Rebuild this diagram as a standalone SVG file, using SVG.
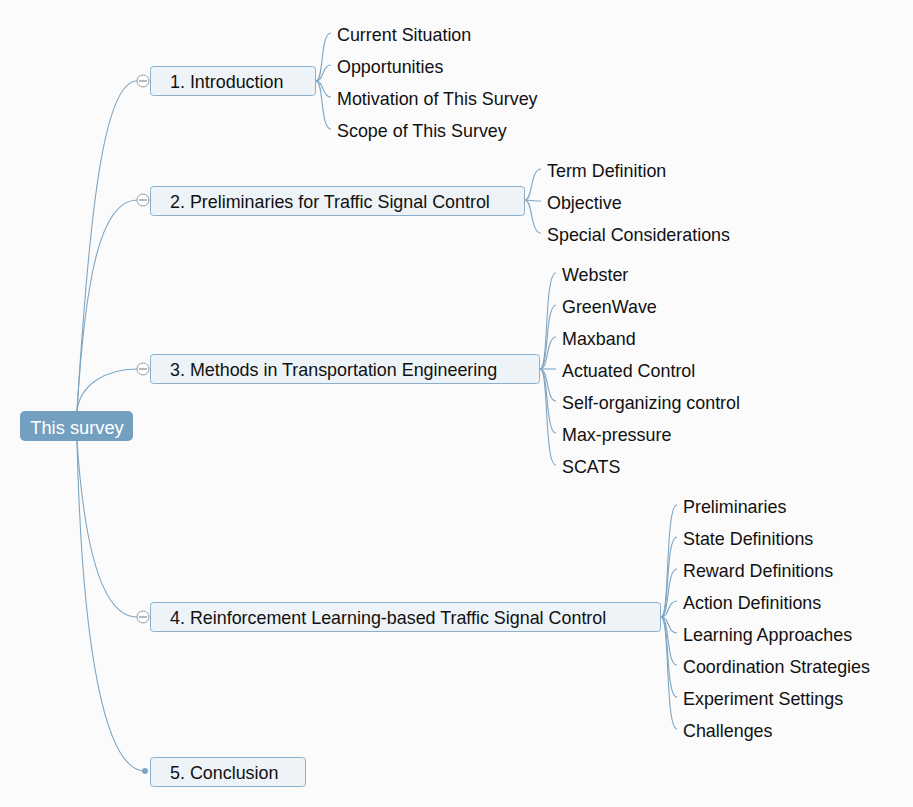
<svg xmlns="http://www.w3.org/2000/svg" width="913" height="807" viewBox="0 0 913 807">
<style>
text{font-family:"Liberation Sans",Arial,sans-serif;font-size:17.9px;fill:#111}
.box{fill:#eef3f7;stroke:#8cb0cb;stroke-width:1}
.ln{fill:none;stroke:#7ea6c4;stroke-width:1.1}
.cc{fill:#fff;stroke:#9a9a9a;stroke-width:1}
.cm{stroke:#777;stroke-width:1}
</style>
<rect width="913" height="807" fill="#fbfbfb"/>
<g id="connectors">
<path class="ln" d="M77 411 C90 200 105 81 137 81"/>
<path class="ln" d="M77 411 C85 280 100 200 137 200"/>
<path class="ln" d="M77 411 C80 385 105 369 137 369"/>
<path class="ln" d="M77 441 C85 560 105 617 137 617"/>
<path class="ln" d="M77 441 C82 650 105 771 145 771"/>
<path class="ln" d="M316 81 C324 81 320 33 331 33"/>
<path class="ln" d="M316 81 C324 81 322 65 331 65"/>
<path class="ln" d="M316 81 C324 81 322 97 331 97"/>
<path class="ln" d="M316 81 C324 81 320 129 331 129"/>
<path class="ln" d="M525 200 C533 200 530 169 541 169"/>
<path class="ln" d="M525 200 C533 200 530 201 541 201"/>
<path class="ln" d="M525 200 C533 200 530 233 541 233"/>
<path class="ln" d="M540 369 C549 369 544 273 556 273"/>
<path class="ln" d="M540 369 C549 369 545 305 556 305"/>
<path class="ln" d="M540 369 C549 369 546 337 556 337"/>
<path class="ln" d="M540 369 C549 369 546 369 556 369"/>
<path class="ln" d="M540 369 C549 369 546 401 556 401"/>
<path class="ln" d="M540 369 C549 369 545 433 556 433"/>
<path class="ln" d="M540 369 C549 369 544 465 556 465"/>
<path class="ln" d="M661 617 C670 617 665 505 677 505"/>
<path class="ln" d="M661 617 C670 617 665 537 677 537"/>
<path class="ln" d="M661 617 C670 617 666 569 677 569"/>
<path class="ln" d="M661 617 C670 617 667 601 677 601"/>
<path class="ln" d="M661 617 C670 617 667 633 677 633"/>
<path class="ln" d="M661 617 C670 617 666 665 677 665"/>
<path class="ln" d="M661 617 C670 617 665 697 677 697"/>
<path class="ln" d="M661 617 C670 617 665 729 677 729"/>
</g>
<g id="root">
<rect x="20" y="411" width="113" height="30" rx="5" fill="#739fc0"/>
<text x="77" y="433.5" text-anchor="middle" style="fill:#fff;font-size:18.3px">This survey</text>
</g>
<g id="n1">
<rect class="box" x="150.5" y="66.5" width="165" height="29" rx="3"/>
<text x="170" y="88">1. Introduction</text>
<circle class="cc" cx="143" cy="81" r="6"/><line class="cm" x1="139" y1="81" x2="147" y2="81"/>
</g>
<g id="n2">
<rect class="box" x="150.5" y="186.5" width="374" height="29" rx="3"/>
<text x="170" y="208">2. Preliminaries for Traffic Signal Control</text>
<circle class="cc" cx="143" cy="200" r="6"/><line class="cm" x1="139" y1="200" x2="147" y2="200"/>
</g>
<g id="n3">
<rect class="box" x="150.5" y="354.5" width="389" height="29" rx="3"/>
<text x="170" y="376">3. Methods in Transportation Engineering</text>
<circle class="cc" cx="143" cy="369" r="6"/><line class="cm" x1="139" y1="369" x2="147" y2="369"/>
</g>
<g id="n4">
<rect class="box" x="150.5" y="602.5" width="510" height="29" rx="3"/>
<text x="170" y="624">4. Reinforcement Learning-based Traffic Signal Control</text>
<circle class="cc" cx="143" cy="617" r="6"/><line class="cm" x1="139" y1="617" x2="147" y2="617"/>
</g>
<g id="n5">
<rect class="box" x="150.5" y="757.5" width="155" height="29" rx="3"/>
<text x="170" y="779">5. Conclusion</text>
<circle cx="145" cy="771" r="3" fill="#7ea6c4"/>
</g>
<g id="c1">
<text x="337" y="40.5">Current Situation</text>
<text x="337" y="72.5">Opportunities</text>
<text x="337" y="104.5">Motivation of This Survey</text>
<text x="337" y="136.5">Scope of This Survey</text>
</g>
<g id="c2">
<text x="547" y="176.5">Term Definition</text>
<text x="547" y="208.5">Objective</text>
<text x="547" y="240.5">Special Considerations</text>
</g>
<g id="c3">
<text x="562" y="280.5">Webster</text>
<text x="562" y="312.5">GreenWave</text>
<text x="562" y="344.5">Maxband</text>
<text x="562" y="376.5">Actuated Control</text>
<text x="562" y="408.5">Self-organizing control</text>
<text x="562" y="440.5">Max-pressure</text>
<text x="562" y="472.5">SCATS</text>
</g>
<g id="c4">
<text x="683" y="512.5">Preliminaries</text>
<text x="683" y="544.5">State Definitions</text>
<text x="683" y="576.5">Reward Definitions</text>
<text x="683" y="608.5">Action Definitions</text>
<text x="683" y="640.5">Learning Approaches</text>
<text x="683" y="672.5">Coordination Strategies</text>
<text x="683" y="704.5">Experiment Settings</text>
<text x="683" y="736.5">Challenges</text>
</g>
</svg>
